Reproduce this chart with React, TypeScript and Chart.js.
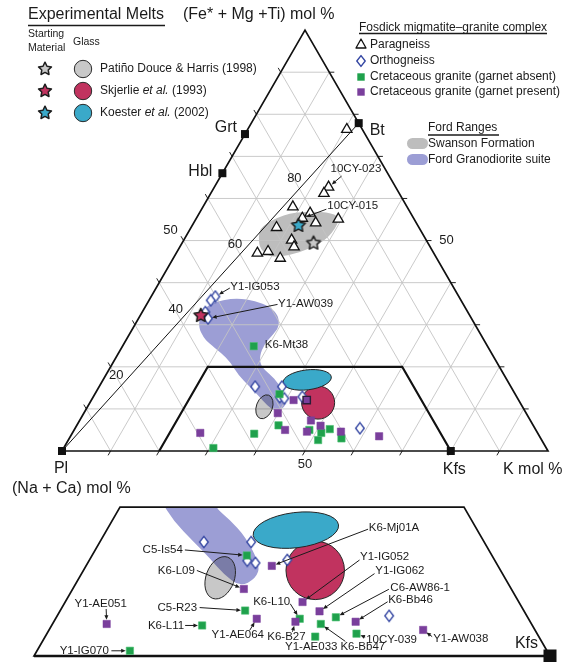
import { useEffect, useRef } from "react";
import { Chart, registerables } from "chart.js";

Chart.register(...registerables);

const SQ = Math.sqrt(3) / 2;
const W = 563;
const H = 662;

// ================= DATA =================
// Each composition: [K mol %, (Fe* + Mg + Ti) mol %]; (Na + Ca) mol % is the remainder.
const vertexNames = ["Pl", "Kfs", "Bt", "Grt", "Hbl"];
const vertexK = [0, 80, 22.1, 0, 0];
const vertexF = [0, 0, 77.9, 75.3, 66.0];

const paragneiss: [number, number][] = [
  [20.4, 76.4], [23.5, 62.7], [23.3, 61.2], [18.5, 58.0], [22.8, 56.5],
  [21.8, 55.3], [29.3, 55.1], [25.1, 54.2], [17.6, 53.1], [22.2, 50.1],
  [23.5, 48.5], [16.7, 47.0], [18.7, 47.4], [22.0, 45.8],
];
const paragneissNames = ["", "10CY-023", "", "", "", "10CY-015", "", "", "", "", "", "", "", ""];

const orthogneiss: [number, number][] = [
  [13.2, 36.7], [12.7, 35.8], [13.0, 33.0], [14.3, 31.5],
  [32.1, 15.3], [37.6, 15.3], [38.4, 12.8], [39.5, 12.5], [43.0, 12.9], [58.6, 5.4],
];
const orthogneissNames = ["Y1-IG053", "", "", "Y1-AW039", "", "", "", "", "", ""];

const graniteGarnetAbsent: [number, number][] = [
  [38.0, 13.5], [41.5, 6.1], [37.5, 4.1], [30.8, 0.7], [48.4, 5.0],
  [51.2, 4.3], [51.4, 2.6], [52.5, 5.2], [56.0, 3.0], [27.0, 24.9],
];
const graniteGarnetAbsentNames = [
  "C5-Is54", "C5-R23", "K6-L11", "Y1-IG070", "K6-L10",
  "K6-Bb47", "Y1-AE033", "C6-AW86-1", "10CY-039", "K6-Mt38",
];

const graniteGarnetPresent: [number, number][] = [
  [26.3, 4.3], [41.6, 12.1], [39.9, 9.0], [43.4, 5.0], [47.6, 7.25],
  [50.2, 6.0], [48.1, 4.6], [55.1, 4.6], [63.5, 3.5], [44.3, 12.1],
];
const graniteGarnetPresentNames = [
  "Y1-AE051", "K6-Mj01A", "K6-L09", "Y1-AE064", "Y1-IG052",
  "Y1-IG062", "K6-B27", "K6-Bb46", "Y1-AW038", "",
];

// Experimental melts: starting material (stars) and glass fields (ellipses)
const meltSources = ["Patiño Douce & Harris (1998)", "Skjerlie et al. (1993)", "Koester et al. (2002)"];
const starK = [27.0, 12.4, 21.8];
const starF = [49.5, 32.3, 53.7];
const glassK = [36.4, 46.95, 42.0];
const glassF = [10.5, 11.5, 16.9];
const glassRadiusA = [1.65, 3.4, 5.0];
const glassRadiusB = [2.55, 3.4, 2.05];
const glassTilt = [20, 0, -7];

// Ford Ranges fields
const swansonK = [15.0, 14.2, 17.5, 22.1, 27.4, 29.8, 29.6, 27.0, 23.4, 20.0, 16.8];
const swansonF = [50.8, 53.3, 56.2, 57.0, 56.6, 55.1, 50.6, 48.0, 46.4, 46.0, 47.9];
const fordK = [12.0, 13.0, 15.2, 18.1, 21.9, 25.6, 28.4, 29.9, 29.6, 28.9, 29.4, 31.0, 33.6,
  36.6, 40.2, 40.6, 39.3, 36.7, 33.9, 30.8, 27.2, 24.2, 21.0, 17.4, 15.6, 13.4];
const fordF = [32.9, 34.9, 35.9, 36.3, 35.7, 34.3, 32.2, 29.6, 27.5, 25.5, 22.4, 20.0, 18.3,
  16.0, 12.2, 10.4, 9.3, 10.9, 13.1, 15.4, 18.1, 21.0, 23.4, 25.6, 27.0, 29.4];

const gridValues = [10, 20, 30, 40, 50, 60, 70, 80, 90];
const edgeLabelValue = 50;
const joinLabels = [20, 40, 60, 80]; // % along the Pl–Bt join

// ================= LAYOUT / STYLE =================
const MAIN = { ox: 62, oy: 451, s: 4.86 };
const INSET = { ox: 34, oy: 656, s: 8.6, x0: 20 };
const FONT = '"Liberation Sans", Arial, Helvetica, sans-serif';
const fnt = (px: number, style = "") => `${style}${px}px ${FONT}`;
const TEXT = "#1b1b1b";
const GRID = "#c4c4c4";
const GREEN = "#1fa14c";
const PURPLE = "#7a3f9c";
const DIAMOND = "#3547a3";
const SWANSON = "#bdbdbd";
const FORD = "#9c9ed5";
const MELT_COLORS = ["#c8c8c8", "#c1335f", "#3aa9c9"];
// highlighted (outlined) point drawn on top of the Skjerlie glass in the main diagram only
const presentOutlined = [false, false, false, false, false, false, false, false, false, true];

const vertexLabelLayout: Record<string, any> = {
  Pl: { dx: -1, dy: 18, align: "center" },
  Kfs: { dx: 3.5, dy: 18.5, align: "center" },
  Bt: { dx: 11, dy: 7, align: "left" },
  Grt: { dx: -8, dy: -6, align: "right" },
  Hbl: { dx: -10, dy: -1.5, align: "right" },
};

const mainLabelLayout: Record<string, any> = {
  "10CY-023": { dx: 2, dy: -18, align: "left", lx: 13, ly: -11 },
  "10CY-015": { dx: 25, dy: -12, align: "left", lx: 24, ly: -9 },
  "Y1-IG053": { dx: 15, dy: -9.5, align: "left", lx: 14.5, ly: -8.5 },
  "Y1-AW039": { dx: 70, dy: -15, align: "left", lx: 69.5, ly: -14 },
  "K6-Mt38": { dx: 11, dy: -1, align: "left" },
};

const insetLabelLayout: Record<string, any> = {
  "C5-Is54": { dx: -64, dy: -6, align: "right", lx: -62, ly: -5.5 },
  "K6-L09": { dx: -49, dy: -18, align: "right", lx: -47, ly: -18.5 },
  "Y1-AE051": { dx: -6, dy: -20, align: "center", lx: -0.5, ly: -15 },
  "C5-R23": { dx: -48, dy: -3, align: "right", lx: -45.5, ly: -3 },
  "K6-L11": { dx: -18, dy: 0, align: "right", lx: -17, ly: 0 },
  "Y1-IG070": { dx: -21, dy: 0, align: "right", lx: -18.5, ly: 0 },
  "Y1-AE064": { dx: -19, dy: 16.5, align: "center", lx: -7, ly: 11.5 },
  "K6-L10": { dx: -9.5, dy: -17.3, align: "right", lx: -9.5, ly: -15 },
  "K6-B27": { dx: -9, dy: 15, align: "center", lx: -3, ly: 10 },
  "Y1-AE033": { dx: -4, dy: 10.5, align: "center" },
  "K6-Bb47": { dx: 42, dy: 22.4, align: "center", lx: 24.5, ly: 17.4 },
  "10CY-039": { dx: 9.7, dy: 6, align: "left", lx: 8.7, ly: 3.4 },
  "Y1-AW038": { dx: 10, dy: 9.3, align: "left", lx: 9, ly: 6.7 },
  "K6-Bb46": { dx: 32.5, dy: -21.7, align: "left", lx: 32, ly: -20 },
  "C6-AW86-1": { dx: 54.5, dy: -29.6, align: "left", lx: 53, ly: -28 },
  "Y1-IG062": { dx: 55.7, dy: -40, align: "left", lx: 55, ly: -37.7 },
  "Y1-IG052": { dx: 57.5, dy: -44.7, align: "left", lx: 57, ly: -42 },
  "K6-Mj01A": { dx: 97, dy: -37.7, align: "left", lx: 96.3, ly: -36.7 },
};

// ================= HELPERS =================
const inTrap = (K: number, F: number) => F <= 20 && K >= 20 && 100 - K - F >= 20;
const xy = (p: [number, number]) => ({ x: p[0] + p[1] / 2, y: p[1] * SQ });

function mapper(chart: any, inset: boolean) {
  const xs = chart.scales[inset ? "xi" : "x"];
  const ys = chart.scales[inset ? "yi" : "y"];
  return (K: number, F: number): [number, number] => [
    xs.getPixelForValue(K + F / 2),
    ys.getPixelForValue(F * SQ),
  ];
}
function unitPx(chart: any, inset: boolean) {
  const xs = chart.scales[inset ? "xi" : "x"];
  return xs.getPixelForValue(1) - xs.getPixelForValue(0);
}

function starPath(g: CanvasRenderingContext2D, cx: number, cy: number, R: number, r: number) {
  g.beginPath();
  for (let i = 0; i < 10; i++) {
    const a = -Math.PI / 2 + (i * Math.PI) / 5;
    const rad = i % 2 === 0 ? R : r;
    const x = cx + rad * Math.cos(a);
    const y = cy + rad * Math.sin(a);
    if (i === 0) g.moveTo(x, y);
    else g.lineTo(x, y);
  }
  g.closePath();
}
function drawStar(g: CanvasRenderingContext2D, cx: number, cy: number, R: number, fill: string) {
  starPath(g, cx, cy, R, R * 0.5);
  g.fillStyle = fill;
  g.fill();
  g.lineJoin = "round";
  g.lineWidth = 1.5;
  g.strokeStyle = "#1e1e1e";
  g.stroke();
}
function starCanvas(fill: string) {
  const c = document.createElement("canvas");
  c.width = 18;
  c.height = 18;
  const g = c.getContext("2d")!;
  drawStar(g, 9, 9.5, 7.2, fill);
  return c;
}
function diamondPath(g: CanvasRenderingContext2D, cx: number, cy: number, hw: number, hh: number) {
  g.beginPath();
  g.moveTo(cx, cy - hh);
  g.lineTo(cx + hw, cy);
  g.lineTo(cx, cy + hh);
  g.lineTo(cx - hw, cy);
  g.closePath();
}
function diamondCanvas() {
  const c = document.createElement("canvas");
  c.width = 12;
  c.height = 14;
  const g = c.getContext("2d")!;
  diamondPath(g, 6, 7, 4.3, 5.6);
  g.fillStyle = "#fff";
  g.fill();
  g.lineWidth = 1.4;
  g.strokeStyle = DIAMOND;
  g.stroke();
  return c;
}

function smoothBlob(ctx: CanvasRenderingContext2D, pts: [number, number][]) {
  const n = pts.length;
  const mid = (a: number[], b: number[]) => [(a[0] + b[0]) / 2, (a[1] + b[1]) / 2];
  ctx.beginPath();
  const s = mid(pts[n - 1], pts[0]);
  ctx.moveTo(s[0], s[1]);
  for (let i = 0; i < n; i++) {
    const m = mid(pts[i], pts[(i + 1) % n]);
    ctx.quadraticCurveTo(pts[i][0], pts[i][1], m[0], m[1]);
  }
  ctx.closePath();
}

function seg(ctx: CanvasRenderingContext2D, a: number[], b: number[]) {
  ctx.moveTo(a[0], a[1]);
  ctx.lineTo(b[0], b[1]);
}

function arrow(ctx: CanvasRenderingContext2D, x0: number, y0: number, x1: number, y1: number, gap: number) {
  const dx = x1 - x0;
  const dy = y1 - y0;
  const L = Math.hypot(dx, dy);
  if (L < 1) return;
  const ux = dx / L;
  const uy = dy / L;
  const tx = x1 - ux * gap;
  const ty = y1 - uy * gap;
  const hl = 4.5;
  const hw = 2;
  ctx.beginPath();
  ctx.moveTo(x0, y0);
  ctx.lineTo(tx - ux * hl * 0.7, ty - uy * hl * 0.7);
  ctx.stroke();
  ctx.beginPath();
  ctx.moveTo(tx, ty);
  ctx.lineTo(tx - ux * hl - uy * hw, ty - uy * hl + ux * hw);
  ctx.lineTo(tx - ux * hl + uy * hw, ty - uy * hl - ux * hw);
  ctx.closePath();
  ctx.fill();
}

function drawGlass(ctx: CanvasRenderingContext2D, chart: any, inset: boolean) {
  const M = mapper(chart, inset);
  const u = unitPx(chart, inset);
  for (let i = 0; i < glassK.length; i++) {
    const [cx, cy] = M(glassK[i], glassF[i]);
    ctx.save();
    ctx.beginPath();
    ctx.ellipse(cx, cy, glassRadiusA[i] * u, glassRadiusB[i] * u, (glassTilt[i] * Math.PI) / 180, 0, Math.PI * 2);
    if (i === 0) ctx.globalCompositeOperation = "multiply";
    ctx.fillStyle = MELT_COLORS[i];
    ctx.fill();
    ctx.globalCompositeOperation = "source-over";
    ctx.strokeStyle = "#262626";
    ctx.lineWidth = 1;
    ctx.stroke();
    ctx.restore();
  }
}

function trapPath(ctx: CanvasRenderingContext2D, P: (K: number, F: number) => [number, number], close: boolean) {
  ctx.beginPath();
  const a = P(20, 0), b = P(20, 20), c = P(60, 20), d = P(80, 0);
  ctx.moveTo(a[0], a[1]);
  ctx.lineTo(b[0], b[1]);
  ctx.lineTo(c[0], c[1]);
  ctx.lineTo(d[0], d[1]);
  if (close) ctx.closePath();
}

const ternaryPlugin = {
  id: "ternary",
  beforeDatasetsDraw(chart: any) {
    const ctx: CanvasRenderingContext2D = chart.ctx;
    const M = mapper(chart, false);
    const I = mapper(chart, true);
    ctx.save();

    // Ford Ranges fields (main)
    smoothBlob(ctx, swansonK.map((k, i) => M(k, swansonF[i])));
    ctx.fillStyle = SWANSON;
    ctx.fill();
    smoothBlob(ctx, fordK.map((k, i) => M(k, fordF[i])));
    ctx.fillStyle = FORD;
    ctx.fill();

    // grid
    ctx.strokeStyle = GRID;
    ctx.lineWidth = 0.9;
    ctx.beginPath();
    for (const v of gridValues) {
      seg(ctx, M(0, v), M(100 - v, v));
      seg(ctx, M(v, 0), M(v, 100 - v));
      seg(ctx, M(100 - v, 0), M(0, 100 - v));
    }
    ctx.stroke();

    // edge ticks
    ctx.strokeStyle = "#222";
    ctx.lineWidth = 1;
    ctx.beginPath();
    const tl = 5;
    for (const v of gridValues) {
      const b = M(v, 0);
      seg(ctx, b, [b[0] - 0.5 * tl, b[1] + SQ * tl]);
      const l = M(0, 100 - v);
      seg(ctx, l, [l[0] - 0.5 * tl, l[1] - SQ * tl]);
      const r = M(100 - v, v);
      seg(ctx, r, [r[0] + tl, r[1]]);
    }
    ctx.stroke();

    // triangle
    ctx.strokeStyle = "#111";
    ctx.lineWidth = 1.7;
    ctx.beginPath();
    const A = M(0, 0), B = M(100, 0), C = M(0, 100);
    ctx.moveTo(A[0], A[1]);
    ctx.lineTo(B[0], B[1]);
    ctx.lineTo(C[0], C[1]);
    ctx.closePath();
    ctx.stroke();

    // Pl–Bt join
    ctx.lineWidth = 1;
    ctx.beginPath();
    seg(ctx, M(vertexK[0], vertexF[0]), M(vertexK[2], vertexF[2]));
    ctx.stroke();

    // trapezoid (main)
    ctx.lineWidth = 2.2;
    trapPath(ctx, M, false);
    ctx.stroke();

    // glass fields main
    drawGlass(ctx, chart, false);

    // ----- inset -----
    ctx.save();
    trapPath(ctx, I, true);
    ctx.clip();
    smoothBlob(ctx, fordK.map((k, i) => I(k, fordF[i])));
    ctx.fillStyle = FORD;
    ctx.fill();
    drawGlass(ctx, chart, true);
    ctx.restore();

    ctx.strokeStyle = "#111";
    ctx.lineWidth = 1.7;
    trapPath(ctx, I, true);
    ctx.stroke();
    ctx.lineWidth = 2.4;
    ctx.beginPath();
    seg(ctx, I(20, 0), I(80, 0));
    ctx.stroke();

    ctx.restore();
  },
  afterDatasetsDraw(chart: any) {
    const ctx: CanvasRenderingContext2D = chart.ctx;
    const M = mapper(chart, false);
    const I = mapper(chart, true);
    ctx.save();
    ctx.fillStyle = TEXT;
    ctx.strokeStyle = TEXT;
    ctx.textBaseline = "middle";

    // vertices
    vertexNames.forEach((n, i) => {
      const [x, y] = M(vertexK[i], vertexF[i]);
      ctx.fillStyle = "#111";
      ctx.fillRect(x - 4, y - 4, 8, 8);
      const L = vertexLabelLayout[n];
      ctx.fillStyle = TEXT;
      ctx.font = fnt(16);
      ctx.textAlign = L.align;
      ctx.fillText(n, x + L.dx, y + L.dy);
    });
    {
      const [x, y] = I(vertexK[1], vertexF[1]);
      ctx.fillStyle = "#111";
      ctx.fillRect(x - 6.5, y - 6.5, 13, 13);
      ctx.fillStyle = TEXT;
      ctx.font = fnt(16);
      ctx.textAlign = "right";
      ctx.fillText(vertexNames[1], x - 12, y - 12);
    }

    // edge labels
    ctx.font = fnt(13);
    ctx.textAlign = "center";
    let p = M(0, edgeLabelValue);
    ctx.fillText(String(edgeLabelValue), p[0] - 13, p[1] - 10);
    p = M(edgeLabelValue, edgeLabelValue);
    ctx.fillText(String(edgeLabelValue), p[0] + 20, p[1]);
    p = M(edgeLabelValue, 0);
    ctx.fillText(String(edgeLabelValue), p[0], p[1] + 13);
    for (const t of joinLabels) {
      const q = M((vertexK[2] * t) / 100, (vertexF[2] * t) / 100);
      ctx.fillText(String(t), q[0] - 5, q[1] - 10);
    }

    // axis titles
    ctx.font = fnt(16);
    ctx.textAlign = "left";
    ctx.fillText("(Fe* + Mg +Ti) mol %", 183, 15);
    ctx.fillText("K mol %", 503, 470);
    ctx.fillText("(Na + Ca) mol %", 12, 489);

    // sample labels
    const series: [[number, number][], string[]][] = [
      [paragneiss, paragneissNames],
      [orthogneiss, orthogneissNames],
      [graniteGarnetAbsent, graniteGarnetAbsentNames],
      [graniteGarnetPresent, graniteGarnetPresentNames],
    ];
    ctx.lineWidth = 1;
    for (const [list, names] of series) {
      list.forEach(([K, F], i) => {
        const name = names[i];
        if (!name) return;
        const inset = inTrap(K, F);
        const L = (inset ? insetLabelLayout : mainLabelLayout)[name];
        if (!L) return;
        const [x, y] = (inset ? I : M)(K, F);
        ctx.font = fnt(11.5);
        ctx.textAlign = L.align;
        ctx.fillText(name, x + L.dx, y + L.dy);
        if (L.lx !== undefined) arrow(ctx, x + L.lx, y + L.ly, x, y, 4.2);
      });
    }

    // ----- legend: experimental melts -----
    ctx.textAlign = "left";
    ctx.font = fnt(16);
    ctx.fillText("Experimental Melts", 28, 15);
    ctx.lineWidth = 1.4;
    ctx.beginPath();
    seg(ctx, [28, 25.5], [165, 25.5]);
    ctx.stroke();
    ctx.font = fnt(10.5);
    ctx.fillText("Starting", 28, 34);
    ctx.fillText("Material", 28, 48);
    ctx.fillText("Glass", 73, 42.5);
    const rows = [69, 91, 113];
    const meltText: [string, boolean][][] = [
      [[meltSources[0], false]],
      [["Skjerlie ", false], ["et al.", true], [" (1993)", false]],
      [["Koester ", false], ["et al.", true], [" (2002)", false]],
    ];
    rows.forEach((y, i) => {
      drawStar(ctx, 45, y, 6.8, MELT_COLORS[i]);
      ctx.beginPath();
      ctx.arc(83, y, 8.7, 0, Math.PI * 2);
      ctx.fillStyle = MELT_COLORS[i];
      ctx.fill();
      ctx.lineWidth = 1;
      ctx.strokeStyle = "#2a2a2a";
      ctx.stroke();
      ctx.fillStyle = TEXT;
      let x = 100;
      for (const [s, it] of meltText[i]) {
        ctx.font = fnt(12, it ? "italic " : "");
        ctx.fillText(s, x, y);
        x += ctx.measureText(s).width;
      }
    });

    // ----- legend: Fosdick -----
    ctx.fillStyle = TEXT;
    ctx.strokeStyle = TEXT;
    ctx.font = fnt(12);
    ctx.fillText("Fosdick migmatite–granite complex", 359, 27.5);
    ctx.lineWidth = 1.3;
    ctx.beginPath();
    seg(ctx, [359, 33.5], [547, 33.5]);
    ctx.stroke();
    const fy = [44.5, 61, 77, 92];
    ctx.beginPath();
    ctx.moveTo(361, fy[0] - 5.5);
    ctx.lineTo(366, fy[0] + 3.5);
    ctx.lineTo(356, fy[0] + 3.5);
    ctx.closePath();
    ctx.fillStyle = "#fff";
    ctx.fill();
    ctx.strokeStyle = "#111";
    ctx.lineWidth = 1.3;
    ctx.stroke();
    diamondPath(ctx, 361, fy[1], 4.2, 5.4);
    ctx.fillStyle = "#fff";
    ctx.fill();
    ctx.strokeStyle = DIAMOND;
    ctx.lineWidth = 1.4;
    ctx.stroke();
    ctx.fillStyle = GREEN;
    ctx.fillRect(357.3, fy[2] - 3.7, 7.4, 7.4);
    ctx.fillStyle = PURPLE;
    ctx.fillRect(357.3, fy[3] - 3.7, 7.4, 7.4);
    ctx.fillStyle = TEXT;
    ctx.font = fnt(12);
    ["Paragneiss", "Orthogneiss", "Cretaceous granite (garnet absent)", "Cretaceous granite (garnet present)"].forEach(
      (s, i) => ctx.fillText(s, 370, fy[i])
    );

    // ----- legend: Ford Ranges -----
    ctx.fillText("Ford Ranges", 428, 127.5);
    ctx.lineWidth = 1.3;
    ctx.strokeStyle = TEXT;
    ctx.beginPath();
    seg(ctx, [428, 135], [499, 135]);
    ctx.stroke();
    const pills: [string, string, number][] = [
      ["Swanson Formation", SWANSON, 143.5],
      ["Ford Granodiorite suite", FORD, 159.5],
    ];
    for (const [s, col, y] of pills) {
      ctx.beginPath();
      ctx.roundRect(407, y - 5.5, 21, 11, 5.5);
      ctx.fillStyle = col;
      ctx.fill();
      ctx.fillStyle = TEXT;
      ctx.fillText(s, 428, y);
    }

    ctx.restore();
  },
};

function buildDatasets(inset: boolean, stars: HTMLCanvasElement[], diamond: HTMLCanvasElement) {
  const ax = inset ? { xAxisID: "xi", yAxisID: "yi" } : { xAxisID: "x", yAxisID: "y" };
  const sel = (list: [number, number][]) =>
    list.map((_, i) => i).filter((i) => !inset || inTrap(list[i][0], list[i][1]));
  const pIdx = sel(graniteGarnetPresent).filter((i) => !inset || !presentOutlined[i]);
  const ds: any[] = [
    {
      ...ax,
      label: "Cretaceous granite (garnet present)",
      order: 1,
      data: pIdx.map((i) => xy(graniteGarnetPresent[i])),
      pointStyle: "rect",
      pointRadius: 5.2,
      backgroundColor: PURPLE,
      borderColor: pIdx.map((i) => (presentOutlined[i] ? "#2a1c38" : PURPLE)),
      borderWidth: pIdx.map((i) => (presentOutlined[i] ? 1.4 : 0.5)),
    },
    {
      ...ax,
      label: "Cretaceous granite (garnet absent)",
      order: 2,
      data: sel(graniteGarnetAbsent).map((i) => xy(graniteGarnetAbsent[i])),
      pointStyle: "rect",
      pointRadius: 5.2,
      backgroundColor: GREEN,
      borderColor: "#4cbf72",
      borderWidth: 0.6,
    },
    {
      ...ax,
      label: "Orthogneiss",
      order: 3,
      data: sel(orthogneiss).map((i) => xy(orthogneiss[i])),
      pointStyle: diamond,
      pointRadius: 5,
    },
    {
      ...ax,
      label: "Paragneiss",
      order: 4,
      data: sel(paragneiss).map((i) => xy(paragneiss[i])),
      pointStyle: "triangle",
      pointRadius: 6,
      backgroundColor: "#ffffff",
      borderColor: "#111111",
      borderWidth: 1.3,
    },
  ];
  if (!inset) {
    ds.unshift({
      ...ax,
      label: "Starting material",
      order: 0,
      data: starK.map((k, i) => xy([k, starF[i]])),
      pointStyle: stars,
      pointRadius: 7,
    });
  }
  return ds;
}

export default function App() {
  const ref = useRef<HTMLCanvasElement>(null);
  useEffect(() => {
    document.body.style.margin = "0";
    const canvas = ref.current!;
    const stars = MELT_COLORS.map((c) => starCanvas(c));
    const diamond = diamondCanvas();
    const chart = new Chart(canvas, {
      type: "scatter",
      data: { datasets: [...buildDatasets(false, stars, diamond), ...buildDatasets(true, stars, diamond)] },
      options: {
        animation: false,
        responsive: false,
        events: [],
        layout: { padding: 0, autoPadding: false },
        plugins: { legend: { display: false }, tooltip: { enabled: false }, title: { display: false } },
        scales: {
          x: { type: "linear", axis: "x", display: false, bounds: "data", min: -MAIN.ox / MAIN.s, max: (W - MAIN.ox) / MAIN.s },
          y: { type: "linear", axis: "y", display: false, bounds: "data", min: (MAIN.oy - H) / MAIN.s, max: MAIN.oy / MAIN.s },
          xi: {
            type: "linear", axis: "x", display: false, bounds: "data",
            min: INSET.x0 - INSET.ox / INSET.s, max: INSET.x0 + (W - INSET.ox) / INSET.s,
          },
          yi: { type: "linear", axis: "y", display: false, bounds: "data", min: (INSET.oy - H) / INSET.s, max: INSET.oy / INSET.s },
        },
      } as any,
      plugins: [ternaryPlugin as any],
    });
    return () => chart.destroy();
  }, []);
  return (
    <div style={{ width: W, height: H, overflow: "hidden" }}>
      <canvas ref={ref} width={W} height={H} style={{ display: "block", width: W, height: H }} />
    </div>
  );
}
